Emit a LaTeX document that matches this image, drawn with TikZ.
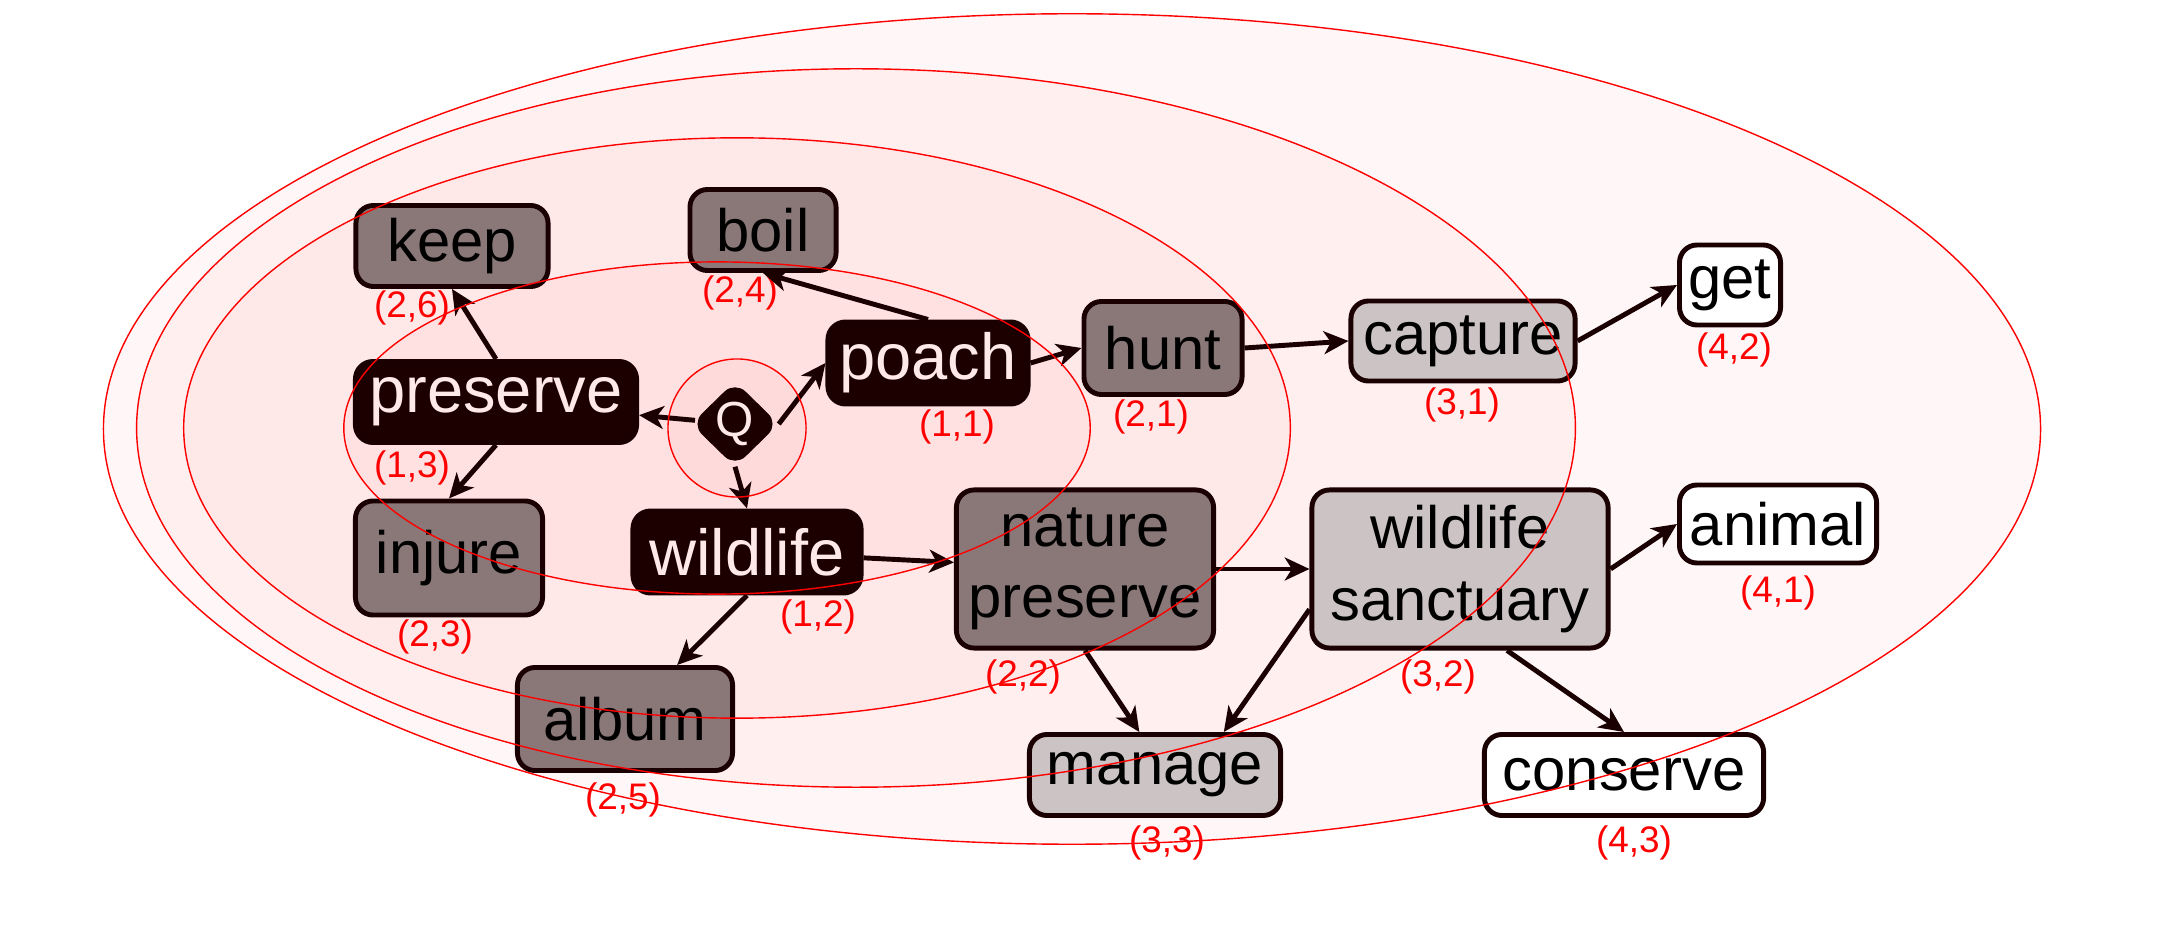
\documentclass[tikz,border=0pt]{standalone}
\usepackage{fontspec}
\setmainfont{Liberation Sans}
\usetikzlibrary{shapes.geometric,arrows.meta}

\definecolor{nodeink}{RGB}{26,0,0}
\definecolor{fillone}{RGB}{28,0,0}
\definecolor{filltwo}{RGB}{138,120,120}
\definecolor{fillthree}{RGB}{204,196,196}
\definecolor{paletext}{RGB}{255,232,232}

\begin{document}
\begin{tikzpicture}[x=0.01cm, y=-0.01cm,
  box/.style={draw=nodeink, line width=1.4pt, rounded corners=5pt, inner sep=0pt,
    align=center, font=\fontsize{17}{20.4}\selectfont},
  lvone/.style={box, fill=fillone, text=paletext, font=\fontsize{18.5}{22}\selectfont},
  lvtwo/.style={box, fill=filltwo},
  lvthree/.style={box, fill=fillthree},
  lvfour/.style={box, fill=white},
  lab/.style={text=red, inner sep=0pt, font=\fontsize{10.5}{12}\selectfont},
  arr/.style={-{Stealth[length=7pt,width=6.5pt,inset=2pt]}, line width=1.4pt, draw=nodeink},
  ringfill/.style={fill=red, fill opacity=0.03},
  ringline/.style={draw=red, line width=0.4pt}
]
\useasboundingbox (0,0) rectangle (2164,928);

% Fill the rings, outermost first
\fill[ringfill] (1072,429) ellipse [x radius=9.68cm, y radius=4.15cm];
\fill[ringfill] (856,428) ellipse [x radius=7.19cm, y radius=3.59cm];
\fill[ringfill] (737,428) ellipse [x radius=5.53cm, y radius=2.90cm];
\fill[ringfill] (717,428) ellipse [x radius=3.73cm, y radius=1.66cm];
\fill[ringfill] (737,428) circle [radius=0.69cm];

% Query node
\node[diamond, fill=fillone, draw=fillone, rounded corners=4pt, inner sep=0pt,
  minimum width=0.86cm, minimum height=0.84cm, text=paletext,
  font=\fontsize{14}{16}\selectfont] (q) at (735,424) {Q};

% First level
\node[lvone, minimum width=2.81cm, minimum height=0.81cm] (preserve) at (496,402) {preserve};
\node[lvone, minimum width=2.00cm, minimum height=0.82cm] (poach) at (928,363) {poach};
\node[lvone, minimum width=2.28cm, minimum height=0.82cm] (wildlife) at (747,552) {wildlife};

% Second level
\node[lvtwo, minimum width=1.92cm, minimum height=0.81cm] (keep) at (452,246) {keep};
\node[lvtwo, minimum width=1.46cm, minimum height=0.81cm] (boil) at (763,230) {boil};
\node[lvtwo, minimum width=1.58cm, minimum height=0.93cm] (hunt) at (1163,348) {hunt};
\node[lvtwo, minimum width=1.87cm, minimum height=1.14cm] (injure) at (449,558) {injure};
\node[lvtwo, minimum width=2.15cm, minimum height=1.03cm] (album) at (625,719) {album};
\node[lvtwo, minimum width=2.57cm, minimum height=1.58cm] (natpres) at (1085,569) {nature\\preserve};

% Third level
\node[lvthree, minimum width=2.24cm, minimum height=0.80cm] (capture) at (1463,341) {capture};
\node[lvthree, minimum width=2.96cm, minimum height=1.58cm] (wildsanc) at (1460,569) {wildlife\\sanctuary};
\node[lvthree, minimum width=2.51cm, minimum height=0.81cm] (manage) at (1155,775) {manage};

% Fourth level
\node[lvfour, minimum width=1.01cm, minimum height=0.80cm] (get) at (1730,285) {get};
\node[lvfour, minimum width=1.97cm, minimum height=0.78cm] (animal) at (1778,524) {animal};
\node[lvfour, minimum width=2.79cm, minimum height=0.81cm] (conserve) at (1624,775) {conserve};

% Position labels
\node[lab] (lkeep) at (412,308) {(2,6)};
\node[lab] (lboil) at (740,293) {(2,4)};
\node[lab] (lpreserve) at (412,468) {(1,3)};
\node[lab] (lpoach) at (957,427) {(1,1)};
\node[lab] (lwildlife) at (818,617) {(1,2)};
\node[lab] (lhunt) at (1151,417) {(2,1)};
\node[lab] (lcapture) at (1462,405) {(3,1)};
\node[lab] (lget) at (1734,350) {(4,2)};
\node[lab] (lanimal) at (1778,593) {(4,1)};
\node[lab] (linjure) at (435,637) {(2,3)};
\node[lab] (lalbum) at (623,800) {(2,5)};
\node[lab] (lnatpres) at (1023,677) {(2,2)};
\node[lab] (lwildsanc) at (1438,677) {(3,2)};
\node[lab] (lmanage) at (1167,843) {(3,3)};
\node[lab] (lconserve) at (1634,843) {(4,3)};

% Connectors
\draw[arr] (q) -- (preserve);
\draw[arr] (q.east) -- (poach.west);
\draw[arr] (q.south) -- (wildlife.north);
\draw[arr] (preserve.north) -- (keep.south);
\draw[arr] (preserve.south) -- (injure.north);
\draw[arr] (poach.north) -- (boil.south);
\draw[arr] (poach.east) -- (hunt.west);
\draw[arr] (wildlife) -- (natpres);
\draw[arr] (wildlife.south) -- (album.46);
\draw[arr] (hunt.east) -- (capture.west);
\draw[arr] (capture.east) -- (get.west);
\draw[arr] (natpres) -- (wildsanc);
\draw[arr] (natpres.south) -- (manage.110);
\draw[arr] (wildsanc.195) -- (manage.32);
\draw[arr] (wildsanc.east) -- (animal.west);
\draw[arr] (wildsanc.-60) -- (conserve.north);

% Ring outlines go over the boxes
\draw[ringline] (1072,429) ellipse [x radius=9.68cm, y radius=4.15cm];
\draw[ringline] (856,428) ellipse [x radius=7.19cm, y radius=3.59cm];
\draw[ringline] (737,428) ellipse [x radius=5.53cm, y radius=2.90cm];
\draw[ringline] (717,428) ellipse [x radius=3.73cm, y radius=1.66cm];
\draw[ringline] (737,428) circle [radius=0.69cm];
\end{tikzpicture}
\end{document}
